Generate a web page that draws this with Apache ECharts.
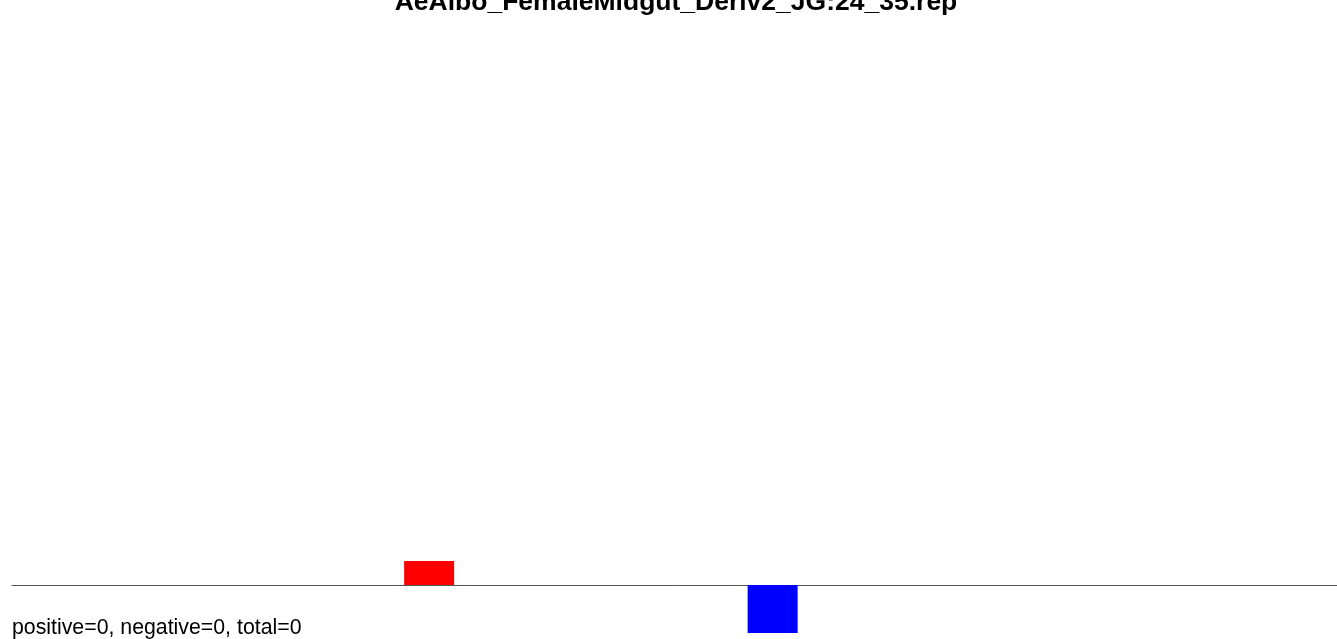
<!DOCTYPE html>
<html>
<head>
<meta charset="utf-8">
<script src="https://cdn.jsdelivr.net/npm/echarts@6/dist/echarts.min.js"></script>
<style>
  html, body { margin: 0; padding: 0; background: #ffffff; overflow: hidden; }
  #chart { width: 1337px; height: 639px; }
</style>
</head>
<body>
<div id="chart"></div>
<script>
const chartTitle = 'AeAlbo_FemaleMidgut_Deriv2_JG:24_35.rep';
const categories = ['1','2','3','4','5','6','7','8','9','10','11','12','13','14','15','16','17','18','19','20','21','22','23','24','25','26','27'];
const positiveValues = ['-','-','-','-','-','-','-','-',1,'-','-','-','-','-','-','-','-','-','-','-','-','-','-','-','-','-','-'];
const negativeValues = ['-','-','-','-','-','-','-','-','-','-','-','-','-','-','-',-2,'-','-','-','-','-','-','-','-','-','-','-'];
const statNames = ['positive', 'negative', 'total'];
const statValues = [0, 0, 0];

const statText = statNames.map((n, i) => n + '=' + statValues[i]).join(', ');

const chart = echarts.init(document.getElementById('chart'), null, { renderer: 'canvas' });
chart.setOption({
  animation: false,
  backgroundColor: '#ffffff',
  title: [
    {
      text: chartTitle,
      left: 676, textAlign: 'center',
      top: -11, padding: 0,
      textStyle: { fontFamily: 'Liberation Sans, Arial, sans-serif', fontSize: 26.5, fontWeight: 'bold', color: '#000000' }
    },
    {
      text: statText,
      left: 12, top: 618, padding: 0,
      textStyle: { fontFamily: 'Liberation Sans, Arial, sans-serif', fontSize: 21.3, fontWeight: 'normal', color: '#000000' }
    }
  ],
  grid: { left: 12, right: -4, top: 561, bottom: 6, containLabel: false },
  xAxis: {
    type: 'category',
    data: categories,
    axisLine: { show: true, onZero: true, lineStyle: { color: '#555555', width: 1 } },
    axisTick: { show: false },
    axisLabel: { show: false },
    splitLine: { show: false }
  },
  yAxis: {
    type: 'value',
    min: -2, max: 1,
    show: false,
    splitLine: { show: false }
  },
  series: [
    {
      name: 'positive', type: 'bar', stack: 'all', barWidth: 50,
      data: positiveValues,
      itemStyle: { color: '#ff0000' }
    },
    {
      name: 'negative', type: 'bar', stack: 'all', barWidth: 50,
      data: negativeValues,
      itemStyle: { color: '#0000ff' }
    }
  ]
});
</script>
</body>
</html>
